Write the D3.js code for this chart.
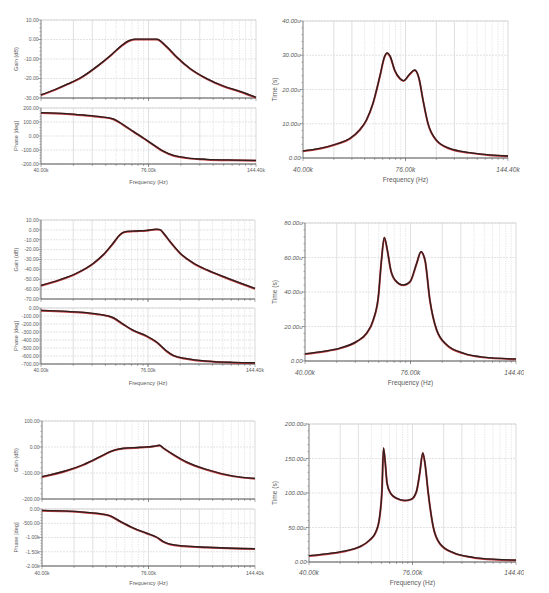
<!DOCTYPE html>
<html><head><meta charset="utf-8">
<script src="https://cdn.jsdelivr.net/npm/d3@7"></script>
<style>
body{margin:0;background:#fff}
svg{display:block}
text{font-family:"Liberation Sans",Arial,sans-serif;fill:#5a5a5a}
</style>
</head><body>
<svg id="c" width="549" height="593"></svg>
<script>
// ---- data (frequency in kHz) ----
const freqTicks = [40, 76, 144.4];
const freqTickLabels = ["40.00k", "76.00k", "144.40k"];
const gridSteps = [2, 3, 4, 5, 6, 7, 8, 9];

const p1Gain = [[40,-28.5],[43.5,-25.8],[47.1,-22.8],[51.0,-19.4],[56.4,-13.3],[61.0,-7.8],[64.7,-3.3],[67.4,-0.9],[70.1,0],[76,0],[79.8,0],[84.7,-3.8],[89.8,-9.0],[97.4,-15],[107.6,-20.2],[118.8,-24],[131.3,-26.8],[144.4,-29.8]];
const p1Phase = [[40,165],[46.6,158],[51.5,148],[56.9,136],[61.6,120],[65.4,78],[69.4,31],[73.7,-16],[78.2,-64],[83.0,-110],[88.2,-141],[95.5,-158],[107.5,-169],[126.2,-174],[144.4,-176]];
const p1Delay = [[40,2.0],[44.4,2.7],[49.3,4.0],[53.6,5.6],[57.0,8.1],[59.5,11.0],[62.0,15.9],[64.7,23.7],[66.7,29.6],[67.7,30.6],[69.1,29.5],[71.0,25.6],[73.3,23.2],[75.1,22.5],[78.0,24.4],[80.5,25.6],[82.7,23.2],[84.8,16.9],[87.5,10.0],[92.1,5.2],[100.2,2.7],[113.6,1.5],[128.8,0.8],[144.4,0.5]];

const p2Gain = [[40,-56.5],[44.8,-50.8],[49.6,-44],[54.8,-34],[58.1,-25.5],[61.7,-13.6],[64.2,-5.2],[65.8,-2.5],[69.6,-1.5],[75.4,-0.8],[80.0,0.5],[81.7,0],[83.4,-3.5],[86.7,-12],[92.1,-23.8],[99.8,-33.9],[108.0,-40.6],[121.9,-49],[144.4,-59.6]];
const p2Phase = [[40,-33],[46.7,-46],[52.6,-62],[57.0,-83],[61.7,-125],[65.6,-208],[69.6,-283],[75.4,-354],[80.0,-429],[85.0,-542],[88.4,-596],[95.9,-637],[108.0,-667],[126.8,-683],[144.4,-688]];
const p2Delay = [[40,4.0],[44.7,5.4],[49.5,7.3],[54.8,11.2],[58.2,16.0],[60.6,23.7],[62.5,37.2],[63.7,58.4],[64.8,71.5],[66.0,64.2],[67.4,52.6],[69.2,46.8],[72.8,43.9],[75.8,45.9],[78.9,56.5],[81.0,63.2],[83.0,58.4],[85.5,35.3],[89.1,17.9],[94.7,9.3],[104.8,4.4],[118.3,2.1],[144.4,1.0]];

const p3Gain = [[40,-115.5],[46.5,-91.5],[51.4,-68.5],[56.8,-38],[60.3,-19],[63.4,-9],[65.4,-6],[72.3,-2.2],[78.3,1.7],[81.2,5.5],[83.1,-4.7],[88.3,-30],[95.8,-59.6],[107.9,-87.7],[126.7,-113],[144.4,-122]];
const p3Phase = [[40,-59],[46.5,-82],[52.4,-129],[56.8,-176],[60.3,-247],[64.1,-447],[69.5,-682],[75.2,-859],[79.9,-1000],[83.1,-1153],[86.6,-1247],[93.8,-1306],[107.9,-1353],[126.7,-1388],[144.4,-1400]];
const p3Delay = [[40,8.7],[45.5,12.1],[50.5,16],[54.8,21.8],[58.3,31.6],[60.6,43.7],[62.0,65.5],[62.9,104.4],[63.5,165],[64.2,143],[64.9,114],[66.3,99.5],[68.8,92.2],[72.5,88.8],[75.5,90.8],[77.9,102],[79.5,128.6],[81.0,157.8],[82.1,143],[83.8,99.5],[86.4,51],[90.0,26.7],[97.9,13.1],[110.8,6.3],[128.0,3.4],[144.4,2.4]];

// y axis tick values
const p1GainTicks = [10, 0, -10, -20, -30];
const p1PhaseTicks = [200, 100, 0, -100, -200];
const p1DelayTicks = [40, 30, 20, 10, 0];
const p2GainTicks = [10, 0, -10, -20, -30, -40, -50, -60, -70];
const p2PhaseTicks = [0, -100, -200, -300, -400, -500, -600, -700];
const p2DelayTicks = [80, 60, 40, 20, 0];
const p3GainTicks = [100, 0, -100, -200];
const p3PhaseTicks = [0, -500, -1000, -1500, -2000];
const p3DelayTicks = [200, 150, 100, 50, 0];

// ---- drawing ----
const svg = d3.select("#c");
const defs = svg.append("defs");

const fmtNum = v => Math.abs(v) >= 1000 ? (v/1000).toFixed(2) + "k" : v.toFixed(2);
const fmtTime = v => v === 0 ? "0.00" : v.toFixed(2) + "u";

let clipId = 0;

function drawPlot(o) {
  const x = d3.scaleLog().domain([40, 144.4]).range([o.x0, o.x1]);
  const yd = d3.extent(o.ticks);
  const y = d3.scaleLinear().domain(yd).range([o.y1, o.y0]);
  const g = svg.append("g");

  // vertical grid lines (log sub-grid in each half)
  const grid = [];
  gridSteps.forEach(k => {
    grid.push({f: 40 * Math.pow(76/40, Math.log10(k)), k});
    grid.push({f: 76 * Math.pow(144.4/76, Math.log10(k)), k});
  });
  grid.push({f: 76, k: 10});
  g.selectAll(".vg").data(grid).join("line")
    .attr("x1", d => x(d.f)).attr("x2", d => x(d.f))
    .attr("y1", o.y0).attr("y2", o.y1)
    .attr("stroke", d => d.k <= 3 || d.k === 10 ? "#d8d8d8" : "#e2e2e2")
    .attr("stroke-width", 0.8)
    .attr("stroke-dasharray", d => d.k <= 3 || d.k === 10 ? null : "1.5,1");

  // horizontal grid
  g.selectAll(".hg").data(o.ticks).join("line")
    .attr("x1", o.x0).attr("x2", o.x1)
    .attr("y1", d => y(d)).attr("y2", d => y(d))
    .attr("stroke", "#dcdcdc").attr("stroke-width", 0.8)
    .attr("stroke-dasharray", "2,1");

  // light frame top/right
  g.append("line").attr("x1", o.x0).attr("x2", o.x1).attr("y1", o.y0).attr("y2", o.y0)
    .attr("stroke", "#cfcfcf").attr("stroke-width", 0.8);
  g.append("line").attr("x1", o.x1).attr("x2", o.x1).attr("y1", o.y0).attr("y2", o.y1)
    .attr("stroke", "#cfcfcf").attr("stroke-width", 0.8);

  // minor y ticks
  const sorted = o.ticks.slice().sort((a,b)=>a-b);
  const step = sorted[1] - sorted[0];
  const minor = [];
  for (let i = 0; i < sorted.length - 1; i++) for (let j = 1; j < 5; j++) minor.push(sorted[i] + step * j / 5);
  g.selectAll(".mt").data(minor).join("line")
    .attr("x1", o.x0 - 1.5).attr("x2", o.x0)
    .attr("y1", d => y(d)).attr("y2", d => y(d))
    .attr("stroke", "#777").attr("stroke-width", 0.6);
  g.selectAll(".Mt").data(o.ticks).join("line")
    .attr("x1", o.x0 - 3).attr("x2", o.x0)
    .attr("y1", d => y(d)).attr("y2", d => y(d))
    .attr("stroke", "#777").attr("stroke-width", 0.7);

  // x ticks
  g.selectAll(".xt").data(grid.concat(freqTicks.map(f => ({f, k: 10})))).join("line")
    .attr("x1", d => x(d.f)).attr("x2", d => x(d.f))
    .attr("y1", o.y1).attr("y2", d => o.y1 + (d.k === 10 ? 3 : 2))
    .attr("stroke", "#777").attr("stroke-width", 0.6);

  // axes
  g.append("line").attr("x1", o.x0).attr("x2", o.x0).attr("y1", o.y0).attr("y2", o.y1)
    .attr("stroke", "#7a7a7a").attr("stroke-width", 1);
  g.append("line").attr("x1", o.x0).attr("x2", o.x1).attr("y1", o.y1).attr("y2", o.y1)
    .attr("stroke", "#555").attr("stroke-width", 1.1);

  // y labels
  g.selectAll(".yl").data(o.ticks).join("text")
    .attr("x", o.x0 - 2.5).attr("y", d => y(d))
    .attr("dy", "0.35em").attr("text-anchor", "end")
    .attr("font-size", o.yFont).attr("font-style", o.italic ? "italic" : "normal")
    .text(o.fmt);

  // y title
  g.append("text")
    .attr("transform", `translate(${o.titleX},${(o.y0 + o.y1) / 2}) rotate(-90)`)
    .attr("text-anchor", "middle").attr("dy", "0.35em")
    .attr("font-size", o.titleFont).text(o.title);

  // x labels
  if (o.xLabelY) {
    let lg = g.append("g");
    if (o.clipX) {
      const id = "clip" + (clipId++);
      defs.append("clipPath").attr("id", id).append("rect")
        .attr("x", 0).attr("y", 0).attr("width", o.clipX).attr("height", 593);
      lg.attr("clip-path", `url(#${id})`);
    }
    lg.selectAll("text").data(freqTicks).join("text")
      .attr("x", d => x(d)).attr("y", o.xLabelY).attr("dy", "0.35em")
      .attr("text-anchor", "middle").attr("font-size", o.xFont)
      .attr("font-style", o.italic ? "italic" : "normal")
      .text((d, i) => freqTickLabels[i]);
    g.append("text").attr("x", (o.x0 + o.x1) / 2).attr("y", o.xTitleY).attr("dy", "0.35em")
      .attr("text-anchor", "middle").attr("font-size", o.titleFont).text("Frequency (Hz)");
  }

  // curve
  const line = d3.line().x(d => x(d[0])).y(d => y(d[1])).curve(d3.curveMonotoneX);
  g.append("path").datum(o.data).attr("d", line)
    .attr("fill", "none").attr("stroke", "#c0393b").attr("stroke-width", 2.0)
    .attr("stroke-linejoin", "round");
  g.append("path").datum(o.data).attr("d", line)
    .attr("transform", "translate(0,-0.3)")
    .attr("fill", "none").attr("stroke", "#2a2020").attr("stroke-width", 1.3)
    .attr("stroke-linejoin", "round");
}

const L = {yFont: 5, xFont: 5, titleFont: 5.6, titleX: 16, italic: false, fmt: fmtNum};
const R = {yFont: 6, xFont: 6.6, titleFont: 6.6, titleX: 275, italic: true, fmt: fmtTime};

// Row 1
drawPlot({...L, x0: 41, x1: 256, y0: 20, y1: 98, ticks: p1GainTicks, data: p1Gain, title: "Gain (dB)"});
drawPlot({...L, x0: 41, x1: 256, y0: 108, y1: 164, ticks: p1PhaseTicks, data: p1Phase, title: "Phase [deg]", xLabelY: 170, xTitleY: 182});
drawPlot({...R, x0: 303, x1: 508, y0: 21, y1: 158, ticks: p1DelayTicks, data: p1Delay, title: "Time (s)", xLabelY: 170, xTitleY: 180});
// Row 2
drawPlot({...L, x0: 41, x1: 255, y0: 220, y1: 299, ticks: p2GainTicks, data: p2Gain, title: "Gain (dB)"});
drawPlot({...L, x0: 41, x1: 255, y0: 308, y1: 364, ticks: p2PhaseTicks, data: p2Phase, title: "Phase [deg]", xLabelY: 370, xTitleY: 383});
drawPlot({...R, x0: 305, x1: 516, y0: 223, y1: 361, ticks: p2DelayTicks, data: p2Delay, title: "Time (s)", xLabelY: 373, xTitleY: 383, clipX: 524});
// Row 3
drawPlot({...L, x0: 42, x1: 255, y0: 421, y1: 499, ticks: p3GainTicks, data: p3Gain, title: "Gain (dB)"});
drawPlot({...L, x0: 42, x1: 255, y0: 509, y1: 566, ticks: p3PhaseTicks, data: p3Phase, title: "Phase [deg]", xLabelY: 573, xTitleY: 583});
drawPlot({...R, x0: 309, x1: 516, y0: 424, y1: 562, ticks: p3DelayTicks, data: p3Delay, title: "Time (s)", xLabelY: 573, xTitleY: 583, clipX: 524});
</script>
</body></html>
